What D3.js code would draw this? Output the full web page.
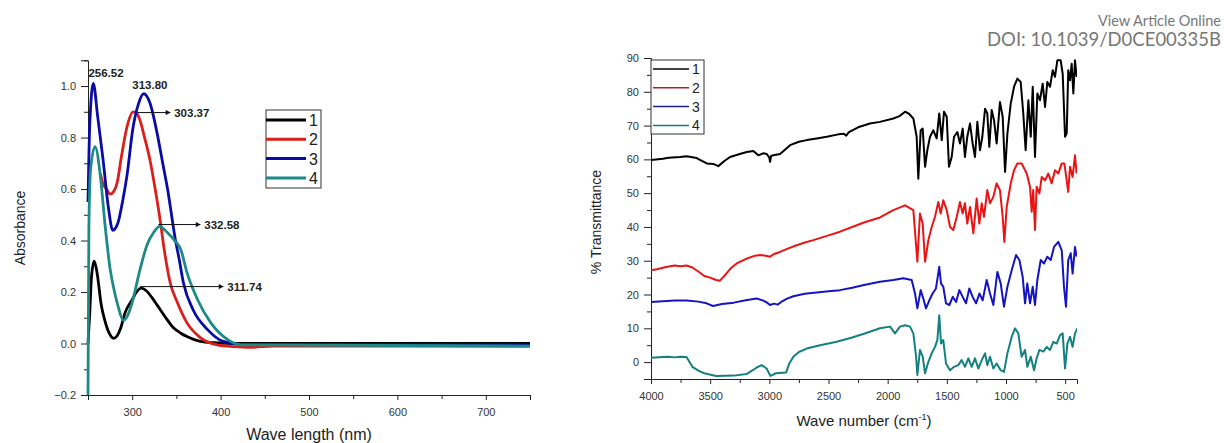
<!DOCTYPE html>
<html>
<head>
<meta charset="utf-8">
<script src="https://cdn.jsdelivr.net/npm/d3@7"></script>
<style>
  body { margin: 0; background: #fff; }
  svg { display: block; font-family: 'Liberation Sans', Arial, sans-serif; }
  .axis path, .axis line { stroke: #222; stroke-width: 1; }
  .axis text { fill: #333; font-size: 11px; font-family: 'Liberation Sans', Arial, sans-serif; }
</style>
</head>
<body>
<div id="chart"></div>
<script>
// ---- UV-vis absorbance, [wavelength nm, absorbance]
const uv1 = [[250, 0.0], [252, 0.12], [254, 0.26], [257, 0.32], [260, 0.28], [265, 0.15], [269, 0.09], [274, 0.04],
  [279, 0.02], [283, 0.03], [287, 0.06], [292, 0.12], [300, 0.17], [305, 0.2], [310, 0.215], [316, 0.205],
  [322, 0.18], [328, 0.15], [337, 0.105], [347, 0.06], [355, 0.04], [362, 0.027], [377, 0.008], [392, 0.003],
  [420, 0], [750, 0]]
const uv2 = [[264, 0.66], [267, 0.62], [271, 0.6], [275, 0.58], [279, 0.59], [283, 0.625],
  [288, 0.73], [294, 0.84], [301, 0.9], [305, 0.895], [309, 0.865], [314, 0.8], [320, 0.715], [326, 0.6],
  [332, 0.47], [336, 0.37], [343, 0.236], [351, 0.16], [362, 0.08], [377, 0.023], [396, -0.005], [415, -0.012],
  [434, -0.015], [460, -0.01], [750, -0.01]]
const uv3 = [[250, 0.55], [252, 0.85], [256, 1.01], [261, 0.88], [267, 0.715], [273, 0.53], [278, 0.44], [284, 0.47],
  [289, 0.55], [294, 0.65], [301, 0.84], [307, 0.93], [313, 0.97], [320, 0.935], [328, 0.82], [334, 0.71],
  [340, 0.6], [349, 0.4], [353, 0.33], [358, 0.235], [369, 0.13], [385, 0.055], [403, 0.008], [423, -0.003],
  [750, -0.005]]
const uv4 = [[250, -0.2], [251, 0.45], [253, 0.68], [258, 0.765], [264, 0.65], [269, 0.47], [275, 0.29], [280, 0.2],
  [284, 0.145], [290, 0.09], [295, 0.11], [300, 0.16], [309, 0.29], [317, 0.385], [324, 0.43], [331, 0.455],
  [340, 0.43], [348, 0.4], [355, 0.365], [362, 0.275], [374, 0.17], [389, 0.08], [408, 0.015], [423, -0.005],
  [750, -0.01]]

// peak labels: text, x (nm), y (abs), arrow end (nm) or null
const uvNotes = [
  ['256.52', 250.5, 1.037, null],
  ['313.80', 320, 0.99, null],
  ['303.37', 306, 0.897, 343],
  ['332.58', 329.5, 0.462, 377],
  ['311.74', 309, 0.221, 403]
]

// ---- FTIR transmittance, [wavenumber cm-1, %T]
const ir1 = [[4000, 59.8], [3900, 60.2], [3850, 60.5], [3755, 60.7], [3700, 60.9], [3614, 60.4], [3529, 58.8],
  [3470, 58.6], [3431, 58.0], [3380, 59.5], [3332, 60.7], [3250, 61.6], [3191, 62.2], [3135, 62.5], [3093, 61.2],
  [3050, 61.8], [3022, 61.6], [3000, 60.5], [2994, 59.3], [2985, 61.0], [2966, 61.2], [2910, 61.6], [2870, 62.8],
  [2825, 64.2], [2750, 65.2], [2684, 65.7], [2600, 66.2], [2515, 66.7], [2417, 67.4], [2370, 67.6], [2350, 67.0],
  [2330, 68.0], [2250, 69.5], [2150, 70.6], [2065, 71.1], [1952, 72.1], [1900, 72.8], [1853, 74.1], [1820, 73.5],
  [1783, 72.1], [1755, 66.7], [1741, 54.3], [1721, 68.6], [1704, 69.1], [1684, 57.8], [1665, 62.7], [1642, 66.7],
  [1614, 68.6], [1586, 66.2], [1564, 73.6], [1543, 65.7], [1524, 74.1], [1501, 72.6], [1482, 57.8], [1459, 60.7],
  [1439, 66.7], [1411, 68.1], [1389, 64.7], [1366, 69.1], [1347, 60.7], [1327, 66.7], [1304, 70.6], [1282, 64.7],
  [1262, 60.7], [1242, 71.1], [1220, 62.7], [1200, 66.7], [1177, 75.0], [1158, 73.6], [1141, 63.7], [1121, 74.6],
  [1101, 71.6], [1079, 64.7], [1051, 77.0], [1028, 72.6], [1008, 56.3], [988, 67.7], [960, 76.5], [932, 81.5],
  [904, 83.9], [876, 82.9], [854, 73.6], [834, 62.7], [811, 77.5], [791, 66.7], [774, 81.5], [755, 60.7],
  [735, 79.5], [713, 77.5], [690, 82.4], [670, 75.5], [651, 82.9], [628, 81.5], [605, 86.4], [586, 84.4],
  [566, 89.3], [538, 89.3], [521, 85.4], [501, 66.7], [487, 67.7], [474, 86.4], [459, 83.4], [445, 88.3],
  [431, 79.5], [417, 89.3], [403, 84.4]]
const ir2 = [[4000, 27.2], [3950, 27.5], [3900, 27.9], [3850, 28.3], [3800, 28.6], [3750, 28.4], [3700, 28.6],
  [3650, 28.0], [3600, 26.8], [3550, 25.5], [3500, 25.0], [3450, 24.3], [3417, 24.1], [3380, 25.5], [3330, 27.6],
  [3276, 29.2], [3200, 30.5], [3120, 31.5], [3079, 31.7], [3030, 31.5], [2994, 31.2], [2960, 32.0], [2910, 32.6],
  [2850, 33.5], [2769, 34.6], [2700, 35.4], [2628, 36.1], [2500, 37.5], [2403, 38.6], [2300, 40.0], [2200, 41.3],
  [2065, 42.8], [1952, 45.0], [1853, 46.4], [1783, 45.0], [1749, 29.7], [1727, 44.0], [1704, 41.0], [1684, 29.7],
  [1656, 36.1], [1628, 40.0], [1600, 43.0], [1572, 47.4], [1552, 44.0], [1530, 47.9], [1501, 45.0], [1473, 40.0],
  [1445, 39.1], [1416, 43.0], [1389, 47.4], [1366, 44.0], [1347, 47.0], [1327, 41.0], [1304, 45.9], [1276, 38.1],
  [1248, 48.4], [1225, 41.0], [1205, 47.0], [1186, 43.0], [1158, 50.9], [1135, 47.0], [1107, 48.9], [1079, 52.9],
  [1051, 50.9], [1028, 43.0], [1014, 35.6], [994, 45.9], [960, 52.9], [932, 56.8], [904, 58.8], [868, 58.8],
  [825, 55.8], [797, 51.9], [783, 44.5], [770, 50.9], [755, 39.1], [741, 51.9], [718, 49.9], [698, 54.8],
  [670, 53.8], [642, 55.8], [614, 52.9], [586, 56.8], [558, 55.8], [529, 58.8], [507, 58.8], [487, 53.8],
  [474, 50.4], [459, 57.8], [437, 54.8], [417, 61.2], [403, 55.8]]
const ir3 = [[4000, 17.8], [3900, 18.0], [3800, 18.2], [3700, 18.2], [3600, 17.9], [3530, 17.4], [3476, 16.6],
  [3400, 17.2], [3300, 17.6], [3200, 18.3], [3107, 18.8], [3050, 18.2], [3020, 17.6], [2994, 16.9], [2960, 17.3],
  [2930, 17.0], [2900, 17.8], [2850, 18.8], [2797, 19.5], [2700, 20.2], [2600, 20.6], [2500, 21.0], [2403, 21.3],
  [2300, 22.0], [2200, 22.8], [2065, 23.8], [1952, 24.3], [1868, 24.8], [1797, 24.3], [1769, 20.3], [1749, 15.9],
  [1721, 21.3], [1699, 18.8], [1676, 15.9], [1648, 18.3], [1620, 20.3], [1592, 21.8], [1564, 28.2], [1549, 23.3],
  [1530, 22.3], [1507, 17.4], [1479, 16.9], [1450, 19.3], [1422, 17.8], [1394, 21.3], [1366, 19.3], [1338, 17.4],
  [1310, 21.8], [1282, 19.3], [1253, 17.4], [1225, 20.3], [1197, 18.3], [1163, 24.3], [1135, 20.3], [1107, 16.9],
  [1073, 26.7], [1045, 23.3], [1017, 16.4], [988, 22.3], [952, 27.2], [915, 31.7], [887, 30.2], [859, 25.2],
  [839, 17.4], [820, 23.3], [797, 17.4], [774, 22.3], [755, 16.9], [735, 24.3], [707, 30.2], [679, 29.2],
  [651, 31.2], [622, 30.2], [594, 34.1], [558, 35.6], [529, 33.1], [510, 22.3], [493, 16.4], [474, 30.2],
  [453, 32.2], [437, 26.2], [417, 34.1], [403, 31.2]]
const ir4 = [[4000, 1.3], [3900, 1.5], [3856, 1.6], [3800, 1.4], [3750, 1.6], [3700, 1.5], [3650, -1.4], [3600, -2.5],
  [3550, -3.3], [3450, -4.1], [3300, -4.0], [3191, -3.5], [3140, -2.4], [3107, -1.6], [3065, -0.9], [3023, -1.9],
  [2990, -4.1], [2944, -3.3], [2859, -3.1], [2831, -0.4], [2797, 1.6], [2750, 3.0], [2684, 4.0], [2571, 5.0],
  [2431, 6.0], [2300, 7.3], [2200, 8.4], [2065, 10.0], [1980, 10.5], [1938, 8.5], [1896, 10.5], [1853, 10.9],
  [1811, 10.5], [1783, 8.5], [1760, 1.6], [1749, -3.8], [1727, 3.6], [1704, 1.6], [1684, -3.3], [1656, 0.1],
  [1628, 2.6], [1600, 4.5], [1580, 6.5], [1564, 13.9], [1549, 5.5], [1530, 6.5], [1507, -0.4], [1473, -2.4],
  [1439, -1.4], [1403, -0.9], [1375, 0.6], [1347, -1.4], [1318, 1.1], [1290, -1.4], [1262, 1.1], [1234, -1.9],
  [1205, 0.6], [1177, 2.6], [1158, -0.9], [1135, 1.6], [1107, -1.9], [1079, -0.4], [1045, -2.4], [1017, -2.9],
  [988, 2.6], [952, 7.5], [924, 10.0], [896, 8.5], [868, 1.6], [839, 3.6], [820, -1.4], [791, 1.6], [763, -2.4],
  [741, 1.1], [718, 3.6], [684, 3.1], [656, 4.5], [628, 3.6], [600, 6.0], [572, 5.5], [543, 8.0], [521, 8.5],
  [501, -1.9], [481, 5.5], [459, 7.5], [437, 4.5], [417, 8.5], [397, 10.0]]

const seriesNames = ['1', '2', '3', '4']
const uvColors = ['#000000', '#d8201c', '#0a0aa6', '#1d8a88']
const irColors = ['#000000', '#ea1414', '#1414c0', '#158080']
const irLegendColors = ['#000000', '#b22222', '#22228a', '#1d7a7a']

const uvXTicks = [300, 400, 500, 600, 700]
const uvXMinor = [250, 350, 450, 550, 650, 750]
const uvYTicks = [-0.2, 0.0, 0.2, 0.4, 0.6, 0.8, 1.0]
const uvYMinor = [-0.1, 0.1, 0.3, 0.5, 0.7, 0.9, 1.1]
const irXTicks = [4000, 3500, 3000, 2500, 2000, 1500, 1000, 500]
const irXMinor = [3750, 3250, 2750, 2250, 1750, 1250, 750]
const irYTicks = [0, 10, 20, 30, 40, 50, 60, 70, 80, 90]
const irYMinor = [-5, 5, 15, 25, 35, 45, 55, 65, 75, 85]

const W = 1224
const H = 443

const svg = d3.select('#chart').append('svg').attr('width', W).attr('height', H)

// ---------- left: UV-vis ----------
const xL = d3.scaleLinear().domain([250, 750]).range([88, 530])
const yL = d3.scaleLinear().domain([-0.2, 1.1]).range([395, 60.3])

svg.append('clipPath').attr('id', 'clipL').append('rect')
  .attr('x', xL(250) - 2).attr('y', yL(1.1)).attr('width', xL(750) - xL(250) + 4).attr('height', yL(-0.2) - yL(1.1))

function addAxes(xs, ys, xT, xM, yT, yM, xFmt, yFmt) {
  const y0 = ys.range()[0]
  const x0 = xs.range()[0]
  svg.append('g').attr('class', 'axis').attr('transform', `translate(0,${y0})`)
    .call(d3.axisBottom(xs).tickValues(xM).tickSize(4).tickFormat('')).select('.domain').remove()
  svg.append('g').attr('class', 'axis').attr('transform', `translate(0,${y0})`)
    .call(d3.axisBottom(xs).tickValues(xT).tickSizeOuter(0).tickSize(5).tickPadding(8).tickFormat(xFmt))
  svg.append('g').attr('class', 'axis').attr('transform', `translate(${x0},0)`)
    .call(d3.axisLeft(ys).tickValues(yM).tickSize(4).tickFormat('')).select('.domain').remove()
  svg.append('g').attr('class', 'axis').attr('transform', `translate(${x0},0)`)
    .call(d3.axisLeft(ys).tickValues(yT).tickSizeOuter(0).tickSize(7).tickPadding(5).tickFormat(yFmt))
}

addAxes(xL, yL, uvXTicks, uvXMinor, uvYTicks, uvYMinor, d3.format('d'), d3.format('.1f'))

const uvLine = d3.line().x(d => xL(d[0])).y(d => yL(d[1])).curve(d3.curveMonotoneX)
const gL = svg.append('g').attr('clip-path', 'url(#clipL)')
;[uv1, uv2, uv3, uv4].forEach((s, i) => {
  gL.append('path').datum(s).attr('d', uvLine)
    .attr('fill', 'none').attr('stroke', uvColors[i]).attr('stroke-width', 2.8)
})

// arrow marker
svg.append('defs').append('marker').attr('id', 'arr')
  .attr('viewBox', '0 0 10 10').attr('refX', 9).attr('refY', 5)
  .attr('markerWidth', 7).attr('markerHeight', 5).attr('orient', 'auto')
  .append('path').attr('d', 'M0,0L10,5L0,10z').attr('fill', '#111')

uvNotes.forEach(n => {
  const [label, wx, wy, end] = n
  if (end === null) {
    svg.append('text').attr('x', xL(wx)).attr('y', yL(wy))
      .attr('text-anchor', n[0] === '313.80' ? 'middle' : 'start')
      .attr('font-size', 11.5).attr('font-weight', 'bold').attr('fill', '#222').text(label)
  } else {
    svg.append('line').attr('x1', xL(wx)).attr('y1', yL(wy)).attr('x2', xL(end)).attr('y2', yL(wy))
      .attr('stroke', '#111').attr('stroke-width', 1).attr('marker-end', 'url(#arr)')
    svg.append('text').attr('x', xL(end) + 4).attr('y', yL(wy) + 4)
      .attr('font-size', 11.5).attr('font-weight', 'bold').attr('fill', '#222').text(label)
  }
})

// legend (left)
const legL = svg.append('g')
legL.append('rect').attr('x', 266).attr('y', 110).attr('width', 55).attr('height', 78)
  .attr('fill', '#fff').attr('stroke', '#333').attr('stroke-width', 1)
seriesNames.forEach((s, i) => {
  const yy = 120 + i * 19.3
  legL.append('line').attr('x1', 266).attr('x2', 306).attr('y1', yy).attr('y2', yy)
    .attr('stroke', uvColors[i]).attr('stroke-width', 3)
  legL.append('text').attr('x', 309).attr('y', yy + 6).attr('font-size', 16).attr('fill', '#222').text(s)
})

svg.append('text').attr('x', 309).attr('y', 440).attr('text-anchor', 'middle')
  .attr('font-size', 16).attr('fill', '#222').text('Wave length (nm)')
svg.append('text').attr('transform', 'translate(25,228) rotate(-90)').attr('text-anchor', 'middle')
  .attr('font-size', 14).attr('fill', '#222').text('Absorbance')

// ---------- right: FTIR ----------
const xR = d3.scaleLinear().domain([4000, 400]).range([651, 1077])
const yR = d3.scaleLinear().domain([-5, 90]).range([379, 58])

svg.append('clipPath').attr('id', 'clipR').append('rect')
  .attr('x', xR(4000)).attr('y', yR(90) - 2).attr('width', xR(400) - xR(4000)).attr('height', yR(-5) - yR(90) + 2)

addAxes(xR, yR, irXTicks, irXMinor, irYTicks, irYMinor, d3.format('d'), d3.format('d'))
svg.selectAll('.axis text').filter(function () { return this.getBBox().x > 600 })
  .attr('font-size', 10.5).attr('letter-spacing', 1.2)

const irLine = d3.line().x(d => xR(d[0])).y(d => yR(d[1]))
const gR = svg.append('g').attr('clip-path', 'url(#clipR)')
;[ir1, ir2, ir3, ir4].forEach((s, i) => {
  gR.append('path').datum(s).attr('d', irLine)
    .attr('fill', 'none').attr('stroke', irColors[i]).attr('stroke-width', 2).attr('stroke-linejoin', 'round')
})

// legend (right)
const legR = svg.append('g')
legR.append('rect').attr('x', 651).attr('y', 60).attr('width', 53).attr('height', 74)
  .attr('fill', '#fff').attr('stroke', '#333').attr('stroke-width', 1)
seriesNames.forEach((s, i) => {
  const yy = 69 + i * 18.8
  legR.append('line').attr('x1', 653).attr('x2', 689).attr('y1', yy).attr('y2', yy)
    .attr('stroke', irLegendColors[i]).attr('stroke-width', 1.5)
  legR.append('text').attr('x', 692).attr('y', yy + 5).attr('font-size', 14).attr('fill', '#222').text(s)
})

const xt = svg.append('text').attr('x', 864).attr('y', 426).attr('text-anchor', 'middle')
  .attr('font-size', 15).attr('fill', '#222')
xt.append('tspan').text('Wave number (cm')
xt.append('tspan').attr('font-size', 9).attr('dy', -6).text('-1')
xt.append('tspan').attr('dy', 6).text(')')
svg.append('text').attr('transform', 'translate(601,222) rotate(-90)').attr('text-anchor', 'middle')
  .attr('font-size', 14).attr('fill', '#222').text('% Transmittance')

// ---------- header ----------
svg.append('text').attr('x', 1221).attr('y', 26).attr('text-anchor', 'end')
  .attr('font-family', 'Lato, "Open Sans", sans-serif').attr('font-size', 14.5).attr('fill', '#777')
  .text('View Article Online')
svg.append('text').attr('x', 1221).attr('y', 46).attr('text-anchor', 'end')
  .attr('font-family', 'Lato, "Open Sans", sans-serif').attr('font-size', 18.5).attr('fill', '#777')
  .text('DOI: 10.1039/D0CE00335B')
</script>
</body>
</html>
